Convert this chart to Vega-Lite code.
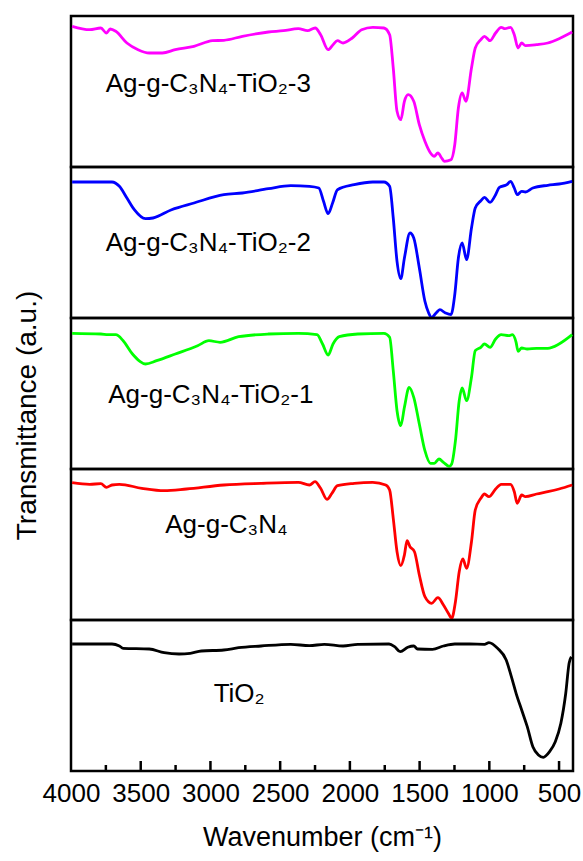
{
  "$schema": "https://vega.github.io/schema/vega-lite/v6.json",
  "padding": {"left": 11, "top": 14, "right": 0, "bottom": 5},
  "background": "white",
  "bounds": "flush",
  "datasets": {
    "spectra": [
      {"s":"P1","wn":3992,"t":140.7},{"s":"P1","wn":3866,"t":137.3},{"s":"P1","wn":3786,"t":139},{"s":"P1","wn":3746,"t":134},{"s":"P1","wn":3719,"t":138},{"s":"P1","wn":3679,"t":135.7},{"s":"P1","wn":3599,"t":124},{"s":"P1","wn":3519,"t":117.3},{"s":"P1","wn":3439,"t":114},{"s":"P1","wn":3345,"t":114},{"s":"P1","wn":3252,"t":117.3},{"s":"P1","wn":3118,"t":120.7},{"s":"P1","wn":2985,"t":126.3},{"s":"P1","wn":2904,"t":126.7},{"s":"P1","wn":2771,"t":130.7},{"s":"P1","wn":2584,"t":135},{"s":"P1","wn":2477,"t":136.3},{"s":"P1","wn":2370,"t":138.3},{"s":"P1","wn":2303,"t":136.3},{"s":"P1","wn":2249,"t":139},{"s":"P1","wn":2210,"t":132.3},{"s":"P1","wn":2156,"t":117.3},{"s":"P1","wn":2121,"t":122.3},{"s":"P1","wn":2089,"t":126.3},{"s":"P1","wn":2049,"t":124},{"s":"P1","wn":1983,"t":129},{"s":"P1","wn":1916,"t":137.3},{"s":"P1","wn":1836,"t":139.7},{"s":"P1","wn":1756,"t":139},{"s":"P1","wn":1715,"t":132.3},{"s":"P1","wn":1689,"t":99},{"s":"P1","wn":1662,"t":55.7},{"s":"P1","wn":1635,"t":47.3},{"s":"P1","wn":1609,"t":65.7},{"s":"P1","wn":1582,"t":72.3},{"s":"P1","wn":1542,"t":65.7},{"s":"P1","wn":1502,"t":42.3},{"s":"P1","wn":1462,"t":25.7},{"s":"P1","wn":1422,"t":14},{"s":"P1","wn":1395,"t":10.7},{"s":"P1","wn":1369,"t":14},{"s":"P1","wn":1342,"t":9},{"s":"P1","wn":1323,"t":5.7},{"s":"P1","wn":1275,"t":7.3},{"s":"P1","wn":1248,"t":22.3},{"s":"P1","wn":1222,"t":59},{"s":"P1","wn":1195,"t":74},{"s":"P1","wn":1168,"t":65.7},{"s":"P1","wn":1128,"t":99},{"s":"P1","wn":1101,"t":119},{"s":"P1","wn":1061,"t":127.3},{"s":"P1","wn":1035,"t":130.7},{"s":"P1","wn":995,"t":126.3},{"s":"P1","wn":955,"t":134},{"s":"P1","wn":915,"t":139.7},{"s":"P1","wn":888,"t":138.3},{"s":"P1","wn":848,"t":139.7},{"s":"P1","wn":821,"t":132.3},{"s":"P1","wn":794,"t":119},{"s":"P1","wn":768,"t":124},{"s":"P1","wn":741,"t":121.3},{"s":"P1","wn":661,"t":122.3},{"s":"P1","wn":581,"t":124},{"s":"P1","wn":500,"t":128.3},{"s":"P1","wn":406,"t":135},

      {"s":"P2","wn":3992,"t":136},{"s":"P2","wn":3706,"t":136},{"s":"P2","wn":3653,"t":131.7},{"s":"P2","wn":3599,"t":120},{"s":"P2","wn":3546,"t":108.3},{"s":"P2","wn":3466,"t":99.3},{"s":"P2","wn":3412,"t":100},{"s":"P2","wn":3279,"t":108.3},{"s":"P2","wn":3118,"t":115},{"s":"P2","wn":2904,"t":123.3},{"s":"P2","wn":2771,"t":125},{"s":"P2","wn":2584,"t":129.3},{"s":"P2","wn":2424,"t":132.3},{"s":"P2","wn":2290,"t":131.7},{"s":"P2","wn":2223,"t":130},{"s":"P2","wn":2189,"t":116.7},{"s":"P2","wn":2156,"t":104.3},{"s":"P2","wn":2124,"t":115},{"s":"P2","wn":2089,"t":128.3},{"s":"P2","wn":1969,"t":133.3},{"s":"P2","wn":1836,"t":136},{"s":"P2","wn":1756,"t":136},{"s":"P2","wn":1715,"t":131.7},{"s":"P2","wn":1689,"t":100},{"s":"P2","wn":1662,"t":56.7},{"s":"P2","wn":1635,"t":39.3},{"s":"P2","wn":1609,"t":60},{"s":"P2","wn":1569,"t":85},{"s":"P2","wn":1542,"t":80},{"s":"P2","wn":1502,"t":50},{"s":"P2","wn":1462,"t":16.7},{"s":"P2","wn":1435,"t":5},{"s":"P2","wn":1414,"t":0.5},{"s":"P2","wn":1382,"t":5},{"s":"P2","wn":1355,"t":8.3},{"s":"P2","wn":1315,"t":5},{"s":"P2","wn":1275,"t":3.3},{"s":"P2","wn":1248,"t":23.3},{"s":"P2","wn":1222,"t":60},{"s":"P2","wn":1195,"t":75},{"s":"P2","wn":1163,"t":58.3},{"s":"P2","wn":1128,"t":90},{"s":"P2","wn":1101,"t":110},{"s":"P2","wn":1061,"t":117.3},{"s":"P2","wn":1035,"t":120.7},{"s":"P2","wn":995,"t":115.7},{"s":"P2","wn":955,"t":123.3},{"s":"P2","wn":928,"t":130.7},{"s":"P2","wn":874,"t":133.3},{"s":"P2","wn":848,"t":136.7},{"s":"P2","wn":821,"t":130},{"s":"P2","wn":800,"t":123.3},{"s":"P2","wn":768,"t":126.7},{"s":"P2","wn":741,"t":126},{"s":"P2","wn":688,"t":130},{"s":"P2","wn":581,"t":132.7},{"s":"P2","wn":500,"t":134},{"s":"P2","wn":406,"t":136.7},

      {"s":"P3","wn":3992,"t":135.7},{"s":"P3","wn":3786,"t":135},{"s":"P3","wn":3733,"t":134.3},{"s":"P3","wn":3679,"t":134.3},{"s":"P3","wn":3626,"t":128.3},{"s":"P3","wn":3559,"t":115},{"s":"P3","wn":3506,"t":107.7},{"s":"P3","wn":3466,"t":105},{"s":"P3","wn":3386,"t":108.3},{"s":"P3","wn":3252,"t":115},{"s":"P3","wn":3092,"t":123.3},{"s":"P3","wn":3011,"t":128.3},{"s":"P3","wn":2931,"t":126.7},{"s":"P3","wn":2798,"t":132.3},{"s":"P3","wn":2584,"t":135},{"s":"P3","wn":2370,"t":135.7},{"s":"P3","wn":2236,"t":134.3},{"s":"P3","wn":2196,"t":125},{"s":"P3","wn":2156,"t":114},{"s":"P3","wn":2121,"t":125},{"s":"P3","wn":2076,"t":132.3},{"s":"P3","wn":1943,"t":135},{"s":"P3","wn":1756,"t":135.7},{"s":"P3","wn":1715,"t":131.7},{"s":"P3","wn":1689,"t":98.3},{"s":"P3","wn":1662,"t":58.3},{"s":"P3","wn":1635,"t":43.3},{"s":"P3","wn":1609,"t":61.7},{"s":"P3","wn":1575,"t":81.7},{"s":"P3","wn":1542,"t":71.7},{"s":"P3","wn":1502,"t":45},{"s":"P3","wn":1462,"t":18.3},{"s":"P3","wn":1422,"t":5.7},{"s":"P3","wn":1395,"t":5.7},{"s":"P3","wn":1361,"t":10},{"s":"P3","wn":1329,"t":6.7},{"s":"P3","wn":1288,"t":2.7},{"s":"P3","wn":1270,"t":5},{"s":"P3","wn":1243,"t":28.3},{"s":"P3","wn":1216,"t":68.3},{"s":"P3","wn":1195,"t":81},{"s":"P3","wn":1163,"t":68.3},{"s":"P3","wn":1128,"t":91.7},{"s":"P3","wn":1101,"t":118.3},{"s":"P3","wn":1061,"t":121.7},{"s":"P3","wn":1035,"t":125},{"s":"P3","wn":995,"t":121.7},{"s":"P3","wn":955,"t":130},{"s":"P3","wn":915,"t":134.3},{"s":"P3","wn":861,"t":133.3},{"s":"P3","wn":835,"t":134.3},{"s":"P3","wn":808,"t":126.7},{"s":"P3","wn":794,"t":117.7},{"s":"P3","wn":768,"t":121},{"s":"P3","wn":728,"t":120},{"s":"P3","wn":661,"t":120.7},{"s":"P3","wn":581,"t":120.7},{"s":"P3","wn":500,"t":125},{"s":"P3","wn":406,"t":134.3},

      {"s":"P4","wn":3992,"t":137.3},{"s":"P4","wn":3866,"t":135.7},{"s":"P4","wn":3786,"t":136.3},{"s":"P4","wn":3746,"t":132.7},{"s":"P4","wn":3706,"t":135},{"s":"P4","wn":3653,"t":135.7},{"s":"P4","wn":3492,"t":131.7},{"s":"P4","wn":3332,"t":129.3},{"s":"P4","wn":3172,"t":131},{"s":"P4","wn":2904,"t":135},{"s":"P4","wn":2637,"t":136.7},{"s":"P4","wn":2370,"t":137.7},{"s":"P4","wn":2290,"t":135},{"s":"P4","wn":2250,"t":138.3},{"s":"P4","wn":2210,"t":131.7},{"s":"P4","wn":2164,"t":120.7},{"s":"P4","wn":2129,"t":126.7},{"s":"P4","wn":2089,"t":134.3},{"s":"P4","wn":1969,"t":136.7},{"s":"P4","wn":1836,"t":137.7},{"s":"P4","wn":1743,"t":135},{"s":"P4","wn":1715,"t":130},{"s":"P4","wn":1689,"t":101.7},{"s":"P4","wn":1662,"t":68.3},{"s":"P4","wn":1635,"t":54.3},{"s":"P4","wn":1609,"t":65},{"s":"P4","wn":1590,"t":79.3},{"s":"P4","wn":1569,"t":73.3},{"s":"P4","wn":1537,"t":68.3},{"s":"P4","wn":1502,"t":45},{"s":"P4","wn":1462,"t":23.3},{"s":"P4","wn":1414,"t":16.7},{"s":"P4","wn":1369,"t":22.3},{"s":"P4","wn":1329,"t":15},{"s":"P4","wn":1294,"t":6.7},{"s":"P4","wn":1270,"t":1.7},{"s":"P4","wn":1243,"t":18.3},{"s":"P4","wn":1216,"t":48.3},{"s":"P4","wn":1190,"t":61},{"s":"P4","wn":1163,"t":51.7},{"s":"P4","wn":1128,"t":78.3},{"s":"P4","wn":1101,"t":110},{"s":"P4","wn":1061,"t":121.7},{"s":"P4","wn":1035,"t":126},{"s":"P4","wn":1003,"t":123.3},{"s":"P4","wn":955,"t":131},{"s":"P4","wn":915,"t":135.7},{"s":"P4","wn":848,"t":135.7},{"s":"P4","wn":821,"t":128.3},{"s":"P4","wn":800,"t":116.7},{"s":"P4","wn":768,"t":125},{"s":"P4","wn":741,"t":123.3},{"s":"P4","wn":661,"t":126},{"s":"P4","wn":581,"t":128.3},{"s":"P4","wn":500,"t":131},{"s":"P4","wn":406,"t":135},

      {"s":"P5","wn":3992,"t":127},{"s":"P5","wn":3706,"t":127},{"s":"P5","wn":3653,"t":125},{"s":"P5","wn":3626,"t":122.7},{"s":"P5","wn":3439,"t":122},{"s":"P5","wn":3332,"t":118.3},{"s":"P5","wn":3225,"t":117},{"s":"P5","wn":3145,"t":117.7},{"s":"P5","wn":3065,"t":120},{"s":"P5","wn":2904,"t":121},{"s":"P5","wn":2798,"t":123.3},{"s":"P5","wn":2637,"t":125},{"s":"P5","wn":2424,"t":126.7},{"s":"P5","wn":2290,"t":125.3},{"s":"P5","wn":2183,"t":126.7},{"s":"P5","wn":2049,"t":125},{"s":"P5","wn":1943,"t":126.7},{"s":"P5","wn":1719,"t":127},{"s":"P5","wn":1679,"t":124.3},{"s":"P5","wn":1639,"t":119.3},{"s":"P5","wn":1585,"t":123.7},{"s":"P5","wn":1542,"t":125},{"s":"P5","wn":1515,"t":122},{"s":"P5","wn":1408,"t":121.7},{"s":"P5","wn":1329,"t":125},{"s":"P5","wn":1248,"t":127},{"s":"P5","wn":1141,"t":127},{"s":"P5","wn":1035,"t":126.7},{"s":"P5","wn":1003,"t":128.3},{"s":"P5","wn":941,"t":122.7},{"s":"P5","wn":879,"t":111},{"s":"P5","wn":842,"t":94.3},{"s":"P5","wn":808,"t":77.7},{"s":"P5","wn":768,"t":61},{"s":"P5","wn":728,"t":44.3},{"s":"P5","wn":688,"t":24.3},{"s":"P5","wn":648,"t":16},{"s":"P5","wn":613,"t":13.7},{"s":"P5","wn":568,"t":19.3},{"s":"P5","wn":527,"t":29.3},{"s":"P5","wn":487,"t":47.7},{"s":"P5","wn":452,"t":77.7},{"s":"P5","wn":428,"t":107.7},{"s":"P5","wn":412,"t":114.3}
    ],
    "majorTicks": [{"wn":500},{"wn":1000},{"wn":1500},{"wn":2000},{"wn":2500},{"wn":3000},{"wn":3500}],
    "minorTicks": [{"wn":750},{"wn":1250},{"wn":1750},{"wn":2250},{"wn":2750},{"wn":3250},{"wn":3750}]
  },
  "vconcat": [
    {
      "width": 502, "height": 151,
      "layer": [
        {"data": {"name": "spectra"}, "transform": [{"filter": "datum.s === 'P1'"}],
         "mark": {"type": "line", "color": "#FF00FF", "strokeWidth": 2.8, "interpolate": "monotone"},
         "encoding": {
           "x": {"field": "wn", "type": "quantitative", "scale": {"domain": [400, 4000], "reverse": true, "nice": false, "zero": false}, "axis": null},
           "y": {"field": "t", "type": "quantitative", "scale": {"domain": [0, 151], "nice": false, "zero": false}, "axis": null}}},
        {"data": {"values": [{"label": "Ag-g-C₃N₄-TiO₂-3"}]},
         "mark": {"type": "text", "align": "left", "baseline": "alphabetic", "fontSize": 26, "font": "Liberation Sans", "color": "black"},
         "encoding": {"text": {"field": "label"}, "x": {"datum": 3751, "type": "quantitative"}, "y": {"datum": 75, "type": "quantitative"}}}
      ]
    },
    {
      "width": 502, "height": 151,
      "layer": [
        {"data": {"name": "spectra"}, "transform": [{"filter": "datum.s === 'P2'"}],
         "mark": {"type": "line", "color": "#0000FF", "strokeWidth": 2.8, "interpolate": "monotone"},
         "encoding": {
           "x": {"field": "wn", "type": "quantitative", "scale": {"domain": [400, 4000], "reverse": true, "nice": false, "zero": false}, "axis": null},
           "y": {"field": "t", "type": "quantitative", "scale": {"domain": [0, 151], "nice": false, "zero": false}, "axis": null}}},
        {"data": {"values": [{"label": "Ag-g-C₃N₄-TiO₂-2"}]},
         "mark": {"type": "text", "align": "left", "baseline": "alphabetic", "fontSize": 26, "font": "Liberation Sans", "color": "black"},
         "encoding": {"text": {"field": "label"}, "x": {"datum": 3751, "type": "quantitative"}, "y": {"datum": 67, "type": "quantitative"}}}
      ]
    },
    {
      "width": 502, "height": 151,
      "layer": [
        {"data": {"name": "spectra"}, "transform": [{"filter": "datum.s === 'P3'"}],
         "mark": {"type": "line", "color": "#00FF00", "strokeWidth": 2.8, "interpolate": "monotone"},
         "encoding": {
           "x": {"field": "wn", "type": "quantitative", "scale": {"domain": [400, 4000], "reverse": true, "nice": false, "zero": false}, "axis": null},
           "y": {"field": "t", "type": "quantitative", "scale": {"domain": [0, 151], "nice": false, "zero": false},
                 "axis": {"title": "Transmittance (a.u.)", "labels": false, "ticks": false, "domain": false, "grid": false,
                          "titleFont": "Liberation Sans", "titleFontSize": 28, "titleFontWeight": "normal", "titleColor": "black",
                          "titleX": -36, "titleY": 97, "titleBaseline": "alphabetic", "titleAngle": -90, "titleAlign": "center"}}}},
        {"data": {"values": [{"label": "Ag-g-C₃N₄-TiO₂-1"}]},
         "mark": {"type": "text", "align": "left", "baseline": "alphabetic", "fontSize": 26, "font": "Liberation Sans", "color": "black"},
         "encoding": {"text": {"field": "label"}, "x": {"datum": 3733, "type": "quantitative"}, "y": {"datum": 66, "type": "quantitative"}}}
      ]
    },
    {
      "width": 502, "height": 151,
      "layer": [
        {"data": {"name": "spectra"}, "transform": [{"filter": "datum.s === 'P4'"}],
         "mark": {"type": "line", "color": "#FF0000", "strokeWidth": 2.8, "interpolate": "monotone"},
         "encoding": {
           "x": {"field": "wn", "type": "quantitative", "scale": {"domain": [400, 4000], "reverse": true, "nice": false, "zero": false}, "axis": null},
           "y": {"field": "t", "type": "quantitative", "scale": {"domain": [0, 151], "nice": false, "zero": false}, "axis": null}}},
        {"data": {"values": [{"label": "Ag-g-C₃N₄"}]},
         "mark": {"type": "text", "align": "left", "baseline": "alphabetic", "fontSize": 26, "font": "Liberation Sans", "color": "black"},
         "encoding": {"text": {"field": "label"}, "x": {"datum": 3324, "type": "quantitative"}, "y": {"datum": 87, "type": "quantitative"}}}
      ]
    },
    {
      "width": 502, "height": 151,
      "layer": [
        {"data": {"name": "spectra"}, "transform": [{"filter": "datum.s === 'P5'"}],
         "mark": {"type": "line", "color": "#000000", "strokeWidth": 2.8, "interpolate": "monotone"},
         "encoding": {
           "x": {"field": "wn", "type": "quantitative", "scale": {"domain": [400, 4000], "reverse": true, "nice": false, "zero": false},
                 "axis": {"title": "Wavenumber (cm⁻¹)", "values": [500,1000,1500,2000,2500,3000,3500,4000],
                          "format": "d",
                          "labelFont": "Liberation Sans", "labelFontSize": 26, "labelColor": "black", "labelOverlap": false, "labelFlush": false, "labelBound": false,
                          "labelPadding": 19, "labelBaseline": "top",
                          "tickSize": -10, "tickOpacity": 0,
                          "domain": false, "grid": false,
                          "titleFont": "Liberation Sans", "titleFontSize": 27, "titleFontWeight": "normal", "titleColor": "black", "titlePadding": 18}},
           "y": {"field": "t", "type": "quantitative", "scale": {"domain": [0, 151], "nice": false, "zero": false}, "axis": null}}},
        {"data": {"name": "majorTicks"},
         "mark": {"type": "tick", "orient": "vertical", "color": "black", "size": 10, "thickness": 2.5, "opacity": 1},
         "encoding": {"x": {"field": "wn", "type": "quantitative"}, "y": {"datum": 5, "type": "quantitative"}}},
        {"data": {"name": "minorTicks"},
         "mark": {"type": "tick", "orient": "vertical", "color": "black", "size": 6, "thickness": 2.5, "opacity": 1},
         "encoding": {"x": {"field": "wn", "type": "quantitative"}, "y": {"datum": 3, "type": "quantitative"}}},
        {"data": {"values": [{"label": "TiO₂"}]},
         "mark": {"type": "text", "align": "left", "baseline": "alphabetic", "fontSize": 26, "font": "Liberation Sans", "color": "black"},
         "encoding": {"text": {"field": "label"}, "x": {"datum": 2977, "type": "quantitative"}, "y": {"datum": 69, "type": "quantitative"}}}
      ]
    }
  ],
  "spacing": 0,
  "config": {
    "view": {"stroke": "black", "strokeWidth": 2.5},
    "concat": {"spacing": 0}
  }
}
